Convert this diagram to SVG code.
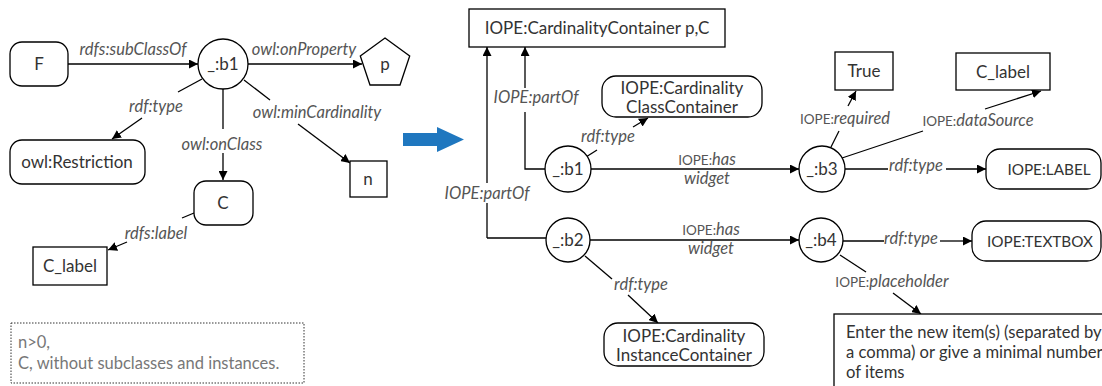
<svg xmlns="http://www.w3.org/2000/svg" width="1102" height="386" viewBox="0 0 1102 386">
<defs>
<marker id="ah" viewBox="0 0 10 10" refX="10" refY="5" markerWidth="9" markerHeight="9" markerUnits="userSpaceOnUse" orient="auto"><path d="M0,0 L10,5 L0,10 z" fill="#000"/></marker>
<style>
.n{fill:#fff;stroke:#000;stroke-width:1.3}
.t{font-family:Lato,"Liberation Sans",sans-serif;font-size:17px;fill:#333;text-anchor:middle}
.sm{font-size:15.3px}
.l{font-family:Lato,"Liberation Sans",sans-serif;font-size:16.5px;font-style:italic;fill:#555;text-anchor:middle}
.s{font-style:normal;font-size:13.5px}
.e{fill:none;stroke:#000;stroke-width:1.3;marker-end:url(#ah)}
.p{fill:none;stroke:#000;stroke-width:1.3}
.note{font-family:Lato,"Liberation Sans",sans-serif;font-size:16.5px;fill:#777}
.ph{font-family:Lato,"Liberation Sans",sans-serif;font-size:16.6px;fill:#333}
</style>
</defs>
<rect width="1102" height="386" fill="#fff"/>
<g id="connectors">
<path class="e" d="M68,64 L198,64"/>
<path class="e" d="M248,64 L362,64"/>
<path class="p" d="M202,79 L178,92"/>
<path class="e" d="M142,118 L112,139"/>
<path class="p" d="M223,89 L223,129"/>
<path class="e" d="M223,153 L223,180"/>
<path class="p" d="M244,80 L270,100"/>
<path class="e" d="M298,124 L350,163"/>
<path class="p" d="M194,213 L182,218"/>
<path class="e" d="M127,242 L108,250"/>
<path class="p" d="M487,238 L487,203"/>
<path class="e" d="M487,183 L487,47"/>
<path class="p" d="M487,238 L546,238"/>
<path class="p" d="M546,169 L525,169 L525,112"/>
<path class="e" d="M525,88 L525,47"/>
<path class="p" d="M586,157 L597,150"/>
<path class="e" d="M633,127 L648,118"/>
<path class="e" d="M591,169 L799,169"/>
<path class="p" d="M831,147 L839,131"/>
<path class="e" d="M848,106 L856,91"/>
<path class="p" d="M842,158 L923,131"/>
<path class="e" d="M985,109 L1041,91"/>
<path class="p" d="M845,169 L888,169"/>
<path class="e" d="M946,169 L986,169"/>
<path class="p" d="M585,256 L612,279"/>
<path class="e" d="M628,295 L658,323"/>
<path class="e" d="M590,240 L799,240"/>
<path class="p" d="M843,241 L884,241"/>
<path class="e" d="M940,241 L972,241"/>
<path class="p" d="M840,255 L866,272"/>
<path class="e" d="M893,293 L921,314"/>
<text class="l" x="133" y="55">rdfs:subClassOf</text>
<text class="l" x="304" y="55">owl:onProperty</text>
<text class="l" x="156" y="112">rdf:type</text>
<text class="l" x="222" y="150">owl:onClass</text>
<text class="l" x="317" y="118">owl:minCardinality</text>
<text class="l" x="156" y="239">rdfs:label</text>
<text class="l" x="536" y="103">IOPE:partOf</text>
<text class="l" x="487" y="199">IOPE:partOf</text>
<text class="l" x="608" y="142">rdf:type</text>
<text class="l" x="707" y="165"><tspan class="s">IOPE:</tspan>has</text>
<text class="l" x="707" y="184">widget</text>
<text class="l" x="845" y="124"><tspan class="s">IOPE:</tspan>required</text>
<text class="l" x="978" y="126"><tspan class="s">IOPE:</tspan>dataSource</text>
<text class="l" x="916" y="171">rdf:type</text>
<text class="l" x="711" y="235"><tspan class="s">IOPE:</tspan>has</text>
<text class="l" x="711" y="254">widget</text>
<text class="l" x="911" y="244">rdf:type</text>
<text class="l" x="641" y="290">rdf:type</text>
<text class="l" x="892" y="287"><tspan class="s">IOPE:</tspan>placeholder</text>
</g>
<g id="F"><rect class="n" x="10" y="42" width="58" height="44" rx="12"/><text class="t" x="39" y="70">F</text></g>
<g id="b1L"><circle class="n" cx="223" cy="64" r="25"/><text class="t" x="223" y="70">_:b1</text></g>
<g id="p"><polygon class="n" points="385,38 409.7,56 400,85 370,85 360.3,56"/><text class="t" x="385" y="70">p</text></g>
<g id="owlRestriction"><rect class="n" x="10" y="140" width="135" height="44" rx="12"/><text class="t" x="77" y="168">owl:Restriction</text></g>
<g id="C"><rect class="n" x="194" y="181" width="59" height="44" rx="12"/><text class="t" x="223" y="209">C</text></g>
<g id="n"><rect class="n" x="350" y="161" width="37" height="36"/><text class="t" x="368" y="185">n</text></g>
<g id="Clabel1"><rect class="n" x="33" y="247" width="74" height="38"/><text class="t" x="70" y="272">C_label</text></g>
<g id="note"><rect x="11" y="323" width="293" height="60" fill="#fff" stroke="#333" stroke-width="1" stroke-dasharray="1.5,1.5"/><text class="note" x="18" y="348">n&gt;0,</text><text class="note" x="18" y="369">C, without subclasses and instances.</text></g>
<g id="bigArrow"><polygon points="403,133 437,133 437,127 464,139.5 437,152 437,146 403,146" fill="#1f77bf"/></g>
<g id="container"><rect class="n" x="469" y="9" width="256" height="38"/><text class="t" x="597" y="34">IOPE:CardinalityContainer p,C</text></g>
<g id="b1"><circle class="n" cx="568" cy="169" r="23"/><text class="t" x="568" y="175">_:b1</text></g>
<g id="classContainer"><rect class="n" x="602" y="76" width="160" height="41" rx="14"/><text class="t" x="682" y="94">IOPE:Cardinality</text><text class="t" x="682" y="113">ClassContainer</text></g>
<g id="b3"><circle class="n" cx="822" cy="169" r="23"/><text class="t" x="822" y="175">_:b3</text></g>
<g id="True"><rect class="n" x="835" y="52" width="58" height="38"/><text class="t" x="864" y="77">True</text></g>
<g id="Clabel2"><rect class="n" x="956" y="53" width="94" height="37"/><text class="t" x="1003" y="78">C_label</text></g>
<g id="LABEL"><rect class="n" x="986" y="149" width="115" height="40" rx="14"/><text class="t sm" x="1049" y="175">IOPE:LABEL</text></g>
<g id="b2"><circle class="n" cx="568" cy="240" r="22"/><text class="t" x="568" y="246">_:b2</text></g>
<g id="b4"><circle class="n" cx="821" cy="240" r="22"/><text class="t" x="821" y="246">_:b4</text></g>
<g id="TEXTBOX"><rect class="n" x="972" y="221" width="129" height="40" rx="14"/><text class="t sm" x="1040" y="247">IOPE:TEXTBOX</text></g>
<g id="instanceContainer"><rect class="n" x="604" y="323" width="160" height="43" rx="14"/><text class="t" x="684" y="342">IOPE:Cardinality</text><text class="t" x="684" y="361">InstanceContainer</text></g>
<g id="placeholderText"><rect class="n" x="834" y="314" width="280" height="80"/><text class="ph" x="846" y="338">Enter the new item(s) (separated by</text><text class="ph" x="846" y="358">a comma) or give a minimal number</text><text class="ph" x="846" y="378">of items</text></g>
</svg>
